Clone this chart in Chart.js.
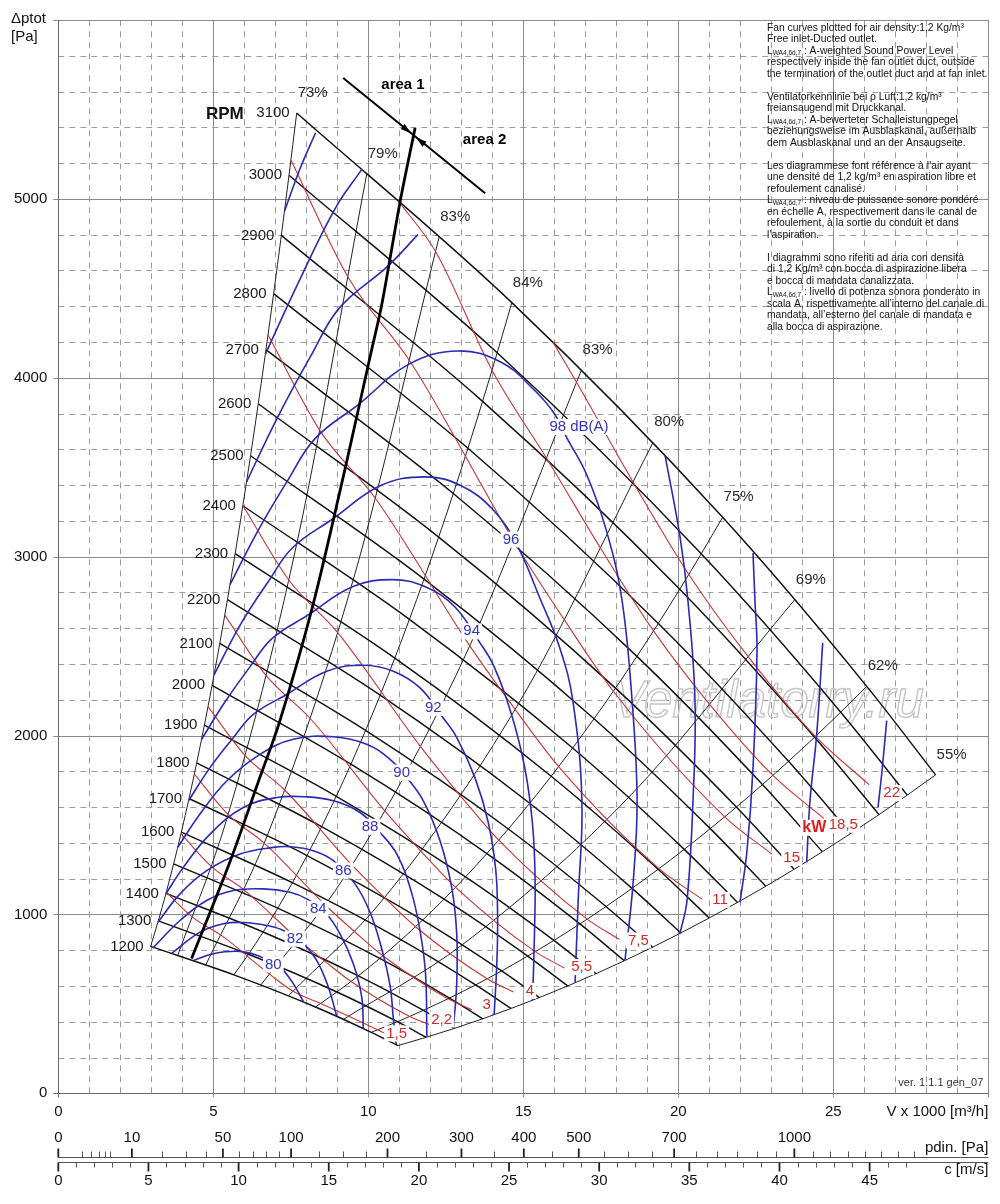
<!DOCTYPE html>
<html><head><meta charset="utf-8">
<script src="https://cdn.jsdelivr.net/npm/chart.js@4.4.1/dist/chart.umd.min.js"></script>
<style>html,body{margin:0;padding:0;background:#fff}#wrap{width:1000px;height:1204px}</style>
</head><body><div id="wrap"><canvas id="c" width="1000" height="1204"></canvas></div>
<script>
const FONT = "'Liberation Sans', Arial, Helvetica, sans-serif";

// ================= DATA (V in 1000 m³/h, p in Pa) =================
const rpmLabels = [1200,1300,1400,1500,1600,1700,1800,1900,2000,2100,2200,2300,2400,2500,2600,2700,2800,2900,3000,3100];

// efficiency lines read at every RPM line
const eff73V = [2.977,3.225,3.473,3.721,3.969,4.217,4.465,4.713,4.961,5.209,5.457,5.705,5.953,6.202,6.450,6.698,6.946,7.194,7.442,7.690];
const eff73P = [821.1,963.7,1117.6,1283.0,1459.8,1648.0,1847.6,2058.6,2280.9,2514.8,2759.9,3016.6,3284.6,3564.0,3854.8,4157.0,4470.7,4795.7,5132.1,5480];
const eff84V = [5.663,6.135,6.607,7.079,7.551,8.023,8.495,8.967,9.439,9.911,10.383,10.855,11.326,11.798,12.270,12.742,13.214,13.686,14.158,14.630];
const eff84P = [662.3,777.3,901.5,1034.9,1177.4,1329.2,1490.2,1660.4,1839.7,2028.3,2226.1,2433.1,2649.3,2874.6,3109.2,3352.9,3605.9,3868.1,4139.4,4420];
const eff75V = [8.296,8.987,9.678,10.369,11.061,11.752,12.443,13.135,13.826,14.517,15.208,15.900,16.591,17.282,17.974,18.665,19.356,20.047,20.739,21.430];
const eff75P = [482.5,566.3,656.7,753.9,857.8,968.4,1085.6,1209.6,1340.3,1477.7,1621.7,1772.5,1930.0,2094.2,2265.0,2442.6,2626.9,2817.9,3015.6,3220];
const eff62V = [10.096,10.937,11.778,12.619,13.461,14.302,15.143,15.985,16.826,17.667,18.508,19.350,20.191,21.032,21.874,22.715,23.556,24.397,25.239,26.080];
const eff62P = [340.9,400.1,464.0,532.6,606.0,684.2,767.0,854.6,946.9,1044.0,1145.8,1252.3,1363.6,1479.6,1600.3,1725.8,1856.0,1990.9,2130.6,2275];
const eff55V = [10.955,11.868,12.781,13.694,14.606,15.519,16.432,17.345,18.258,19.171,20.084,20.997,21.910,22.823,23.735,24.648,25.561,26.474,27.387,28.300];
const eff55P = [266.7,313.0,363.0,416.8,474.2,535.3,600.1,668.7,740.9,816.8,896.5,979.8,1066.9,1157.6,1252.1,1350.3,1452.2,1557.7,1667.0,1780];
// efficiency lines read at 1200, 1700, 2400 and 3100 rpm
const eff79V = [3.852,5.456,7.703,9.95];   const eff79P = [770.2,1545.8,3080.8,5140];
const eff83aV = [4.757,6.740,9.515,12.29]; const eff83aP = [717.7,1440.5,2871.0,4790];
const eff83bV = [6.534,9.257,13.068,16.88];const eff83bP = [606.1,1216.5,2424.5,4045];
const eff80V = [7.428,10.524,14.857,19.19];const eff80P = [545.4,1094.7,2181.7,3640];
const eff69V = [9.198,13.030,18.395,23.76];const eff69P = [413.6,830.0,1654.3,2760];
const effLabels = ['73%','79%','83%','84%','83%','80%','75%','69%','62%','55%'];

// motor power lines (red)
const kwLabels = ['1,5','2,2','3','4','5,5','7,5','11','15','18,5','22'];
const kw1_5V = [3.483,4.349,5.271,6.835,7.587,8.465,10.302,10.74];
const kw1_5P = [1124.0,981.8,881.2,663.1,569.0,502.4,355.0,316.4];
const kw2_2V = [3.957,4.941,5.989,7.766,8.621,9.443,11.338,11.973];
const kw2_2P = [1451.2,1267.5,1137.6,856.1,734.6,625.2,429.9,384.1];
const kw3V = [4.388,5.479,6.641,8.611,9.559,10.471,12.572,13.339];
const kw3P = [1784.2,1558.4,1398.6,1052.6,903.2,768.7,528.6,467.2];
const kw4V = [4.829,6.030,7.309,9.477,10.521,11.524,13.836,14.681];
const kw4P = [2161.2,1887.7,1694.2,1275.0,1094.1,931.2,640.3,566.0];
const kw5_5V = [5.371,6.706,8.128,10.539,11.700,12.816,15.387,16.326];
const kw5_5P = [2672.9,2334.7,2095.2,1576.9,1353.1,1151.6,791.9,700.0];
const kw7_5V = [5.954,7.435,9.012,11.685,12.972,14.209,17.060,18.101];
const kw7_5P = [3285.5,2869.7,2575.4,1938.2,1663.2,1415.5,973.4,860.4];
const kw11V = [6.764,8.446,10.237,13.274,14.736,16.141,19.380,20.759];
const kw11P = [4239.9,3703.3,3323.6,2501.3,2146.4,1826.7,1256.2,1086.0];
const kw15V = [7.503,9.368,11.356,14.724,16.346,17.905,21.497,23.027];
const kw15P = [5216.9,4556.7,4089.5,3077.7,2641.0,2247.7,1545.7,1336.3];
const kw18_5V = [10.97,12.178,13.991,15.789,17.528,19.200,21.049,23.052,24.694];
const kw18_5P = [4988,4702.7,4042.3,3539.2,3037.0,2584.8,2166.1,1777.5,1536.7];
const kw22V = [15.96,16.727,18.569,20.339,22.299,24.421,26.159];
const kw22P = [4198,3971.8,3408.2,2900.6,2431.0,1994.7,1724.5];
const kwLabelV = [10.916,12.368,13.819,15.216,16.884,18.71,21.345,23.658,25.323,26.884];
const kwLabelP = [334.4,412.5,492.2,571.9,705.7,854.5,1081.4,1315.5,1501.1,1677.8];

// sound power curves (blue)
const db80V = [4.36,5.0,5.861,6.506,6.894,7.206,7.581,7.91];
const db80P = [743,780.4,793.2,765.3,731.9,696.8,613.1,511.7];
const db82V = [3.66,4.571,5.323,5.97,6.723,7.258,7.903,8.335,8.71,8.98];
const db82P = [782,900.8,947.6,955,938.1,910.2,836.1,743.0,594.2,431];
const db84V = [3.05,3.926,4.787,5.645,6.613,7.474,8.013,8.603,9.087,9.516,9.787,9.839];
const db84P = [812,966,1077.5,1133.2,1142.7,1123.7,1086.9,1012.2,891.8,724.6,538.4,362];
const db86V = [3.216,3.926,4.787,5.861,6.935,7.474,8.226,8.871,9.571,10.055,10.432,10.7,10.813,10.9];
const db86P = [956.5,1114.8,1244.7,1337.8,1374.6,1378.5,1356.2,1300.4,1170.6,1012.2,808.2,603.6,408.6,275];
const db88V = [3.47,4.032,4.894,5.968,7.045,8.013,8.871,9.732,10.377,10.916,11.377,11.668,11.845,11.89];
const db88P = [1114.8,1263.1,1449.2,1597.5,1653.2,1657.2,1634.9,1569.6,1458.2,1337.8,1133,910,670.6,316];
const db90V = [3.852,4.571,5.432,6.506,7.581,8.871,9.948,10.70,11.239,11.774,12.313,12.69,12.852,12.852,12.742];
const db90P = [1375,1561,1746,1895,1979,1993,1951,1867,1764.7,1634.9,1411.9,1151.6,891.8,613.1,360];
const db92V = [4.2,4.894,5.645,6.29,7.368,8.658,9.839,10.806,11.668,12.368,12.85,13.44,13.87,14.11,14.17,14.15,14.06];
const db92P = [1634.9,1820.5,1987.7,2118.1,2229.6,2359.5,2393,2359.5,2266.4,2108.7,1990,1764.7,1514,1250,1000,743,440];
const db94V = [4.621,5.364,6.187,6.894,8.075,9.489,10.784,11.843,12.788,13.555,14.05,14.62,15.05,15.3,15.38,15.36,15.3];
const db94P = [1978.8,2184.6,2385.2,2541.7,2675.5,2831.4,2871.6,2831.4,2719.7,2530.4,2388,2117,1817,1500,1200,892,520];
const db96V = [5.03,5.879,6.781,7.556,8.85,10.4,11.819,12.98,14.016,14.79,15.54,16.18,16.6,16.89,16.77,16.67];
const db96P = [2341,2621.5,2862.2,3050,3210.6,3397.7,3445.9,3397.7,3263.6,3067,2766,2488,2192,1635,1078,618];
const db98V = [5.539,6.443,7.432,8.281,9.7,11.3,12.9,14.3,15.36,16.0,16.4,17.045,17.69,18.18,18.51,18.67,18.54,18.28];
const db98P = [2843,3146,3435,3660,3853,4075,4150,4085,3930,3800,3665,3458,3140,2761,2192,1635,1172,743];
const db100V = [6.074,7.062,8.145,9.076,10.631,11.6];
const db100P = [3418.5,3775,4122,4392,4624,4800];
const db100bV = [19.571,20.055,20.313,20.539,20.474,20.281,20.055];
const db100bP = [3567,3112,2750,2192,1635,1078,893.5];
const db102V = [6.68,7.74,8.93,9.79];
const db102P = [4132,4530,4946,5165];
const db102bV = [22.41,22.474,22.539,22.41,22.216,21.99];
const db102bP = [3020,2750,2471,1819,1357,1067];
const db104V = [7.3,7.8,8.3];
const db104P = [4933,5170,5370];
const db104bV = [24.658,24.465,24.248,24.142];
const db104bP = [2517,2008,1635,1290];
const db106bV = [26.723,26.561,26.442];
const db106bP = [2083,1785,1597.5];
const dbLabels = ['80','82','84','86','88','90','92','94','96','98 dB(A)'];
const dbLabelV = [6.935,7.635,8.387,9.194,10.055,11.077,12.097,13.335,14.603,16.797];
const dbLabelP = [720.7,864,1031.2,1244.7,1490,1792.6,2155,2582.5,3095.3,3725.3];

// area 1 / area 2 border and marker
const areaV = [4.30,5.55,6.45,7.15,8.22,9.25,10.09,10.43,11.02,11.51];
const areaP = [754,1300,1740,2083,2733,3491,4143,4405,4979,5397];
const crossV = [9.19,13.77];
const crossP = [5676,5031];
const crossMarkV = [11.462];
const crossMarkP = [5355];
const areaTexts = ['area 1','area 2'];
const areaTextV = [11.12,13.75];
const areaTextP = [5636,5328];

// auxiliary scales: outlet velocity c [m/s] and dynamic pressure pdin [Pa]
const velocityPerFlow = 1.7194;   // c [m/s] for 1000 m³/h
const halfDensity = 0.6;          // pdin = 0.6 · c²
const cMajor = [0,5,10,15,20,25,30,35,40,45];
const cMinor = [1,2,3,4,6,7,8,9,11,12,13,14,16,17,18,19,21,22,23,24,26,27,28,29,31,32,33,34,36,37,38,39,41,42,43,44,46,47];
const pdinMajor = [0,10,50,100,200,300,400,500,700,1000];
const pdinMinor = [1,2,3,4,5,20,30,40,60,70,80,90,125,150,175,250,350,450,550,600,650,750,800,850,900,950,1050,1100,1150,1200,1250,1300,1350];

const noteLines = [
  [['Fan curves plotted for air density:1,2 Kg/m³']],
  [['Free inlet-Ducted outlet.']],
  [['L'],['WA4,6d,7','s'],[' : A-weighted Sound Power Level']],
  [['respectively inside the fan outlet duct, outside']],
  [['the termination of the outlet duct and at fan inlet.']],
  null,
  [['Ventilatorkennlinie bei ρ Luft:1,2 kg/m³']],
  [['freiansaugend mit Druckkanal.']],
  [['L'],['WA4,6d,7','s'],[' : A-bewerteter Schalleistungpegel']],
  [['beziehungsweise im Ausblaskanal, außerhalb']],
  [['dem Ausblaskanal und an der Ansaugseite.']],
  null,
  [['Les diagrammese font référence à l\u2019air ayant']],
  [['une densité de 1,2 kg/m³ en aspiration libre et']],
  [['refoulement canalisé.']],
  [['L'],['WA4,6d,7','s'],[' : niveau de puissance sonore pondéré']],
  [['en échelle A, respectivement dans le canal de']],
  [['refoulement, à la sortie du conduit et dans']],
  [['l\u2019aspiration.']],
  null,
  [['I diagrammi sono riferiti ad aria con densità']],
  [['di 1,2 Kg/m³ con bocca di aspirazione libera']],
  [['e bocca di mandata canalizzata.']],
  [['L'],['WA4,6d,7','s'],[' : livello di potenza sonora ponderato in']],
  [['scala A, rispettivamente all\u2019interno del canale di']],
  [['mandata, all\u2019esterno del canale di mandata e']],
  [['alla bocca di aspirazione.']]
];

// ================= BUILD DATASETS =================
const pts = (V, P) => V.map((v, i) => ({x: v, y: P[i]}));
const meshCols = [[eff73V,eff73P],[eff84V,eff84P],[eff75V,eff75P],[eff62V,eff62P],[eff55V,eff55P]];
const datasets = [];

rpmLabels.forEach((n, i) => {
  datasets.push({ data: meshCols.map(c => ({x: c[0][i], y: c[1][i]})), showLine: true,
    borderColor: '#111', borderWidth: 1.45, cubicInterpolationMode: 'monotone', order: 6 });
});
const effLines = [[eff73V,eff73P],[eff79V,eff79P],[eff83aV,eff83aP],[eff84V,eff84P],[eff83bV,eff83bP],
                  [eff80V,eff80P],[eff75V,eff75P],[eff69V,eff69P],[eff62V,eff62P],[eff55V,eff55P]];
effLines.forEach(e => datasets.push({ data: pts(e[0], e[1]), showLine: true, borderColor: '#222',
  borderWidth: 1, cubicInterpolationMode: 'monotone', order: 7 }));

const kwLines = [[kw1_5V,kw1_5P],[kw2_2V,kw2_2P],[kw3V,kw3P],[kw4V,kw4P],[kw5_5V,kw5_5P],
                 [kw7_5V,kw7_5P],[kw11V,kw11P],[kw15V,kw15P],[kw18_5V,kw18_5P],[kw22V,kw22P]];
kwLines.forEach(k => datasets.push({ data: pts(k[0], k[1]), showLine: true, borderColor: '#c93434',
  borderWidth: 1.1, cubicInterpolationMode: 'monotone', order: 5 }));

const dbLines = [[db80V,db80P],[db82V,db82P],[db84V,db84P],[db86V,db86P],[db88V,db88P],[db90V,db90P],
  [db92V,db92P],[db94V,db94P],[db96V,db96P],[db98V,db98P],[db100V,db100P],[db100bV,db100bP],
  [db102V,db102P],[db102bV,db102bP],[db104V,db104P],[db104bV,db104bP],[db106bV,db106bP]];
dbLines.forEach(d => datasets.push({ data: pts(d[0], d[1]), showLine: true, borderColor: '#2a2ab4',
  borderWidth: 1.6, tension: 0.4, order: 3 }));

datasets.push({ data: pts(areaV, areaP), showLine: true, borderColor: '#000', borderWidth: 2.8, tension: 0.3, order: 1 });
datasets.push({ data: pts(crossV, crossP), showLine: true, borderColor: '#000', borderWidth: 2, order: 1 });

// ================= DRAWING HELPERS =================
function label(ctx, s, X, Y, font, color, align, bg) {
  ctx.font = font; ctx.textAlign = align || 'center'; ctx.textBaseline = 'middle';
  if (bg) {
    const w = ctx.measureText(s).width;
    const x0 = align === 'left' ? X : align === 'right' ? X - w : X - w / 2;
    ctx.fillStyle = '#fff'; ctx.fillRect(x0 - 2, Y - 8, w + 4, 16);
  }
  ctx.fillStyle = color; ctx.fillText(s, X, Y);
}

const backPlugin = {
  id: 'back',
  beforeDatasetsDraw(chart) {
    const {ctx, chartArea: a, scales: {x, y}} = chart;
    ctx.save();
    ctx.lineWidth = 1;
    ctx.strokeStyle = '#9c9c9c';
    ctx.setLineDash([6, 5]);
    ctx.beginPath();
    for (let v = 1; v < 30; v++) {
      if (v % 5 === 0) continue;
      const X = Math.round(x.getPixelForValue(v)) + 0.5;
      ctx.moveTo(X, a.bottom); ctx.lineTo(X, a.top);
    }
    for (let p = 200; p < 6000; p += 200) {
      if (p % 1000 === 0) continue;
      const Y = Math.round(y.getPixelForValue(p)) + 0.5;
      ctx.moveTo(a.left, Y); ctx.lineTo(a.right, Y);
    }
    ctx.stroke();
    ctx.setLineDash([]);
    ctx.strokeStyle = '#8a8a8a';
    ctx.beginPath();
    for (let v = 0; v <= 30; v += 5) {
      const X = Math.round(x.getPixelForValue(v)) + 0.5;
      ctx.moveTo(X, a.bottom + 4); ctx.lineTo(X, a.top);
    }
    for (let p = 0; p <= 6000; p += 1000) {
      const Y = Math.round(y.getPixelForValue(p)) + 0.5;
      ctx.moveTo(a.left - 5, Y); ctx.lineTo(a.right, Y);
    }
    ctx.stroke();
    ctx.strokeStyle = '#6a6a6a';
    ctx.beginPath();
    const B = Math.round(a.bottom) + 0.5, L = Math.round(a.left) + 0.5;
    ctx.moveTo(a.left - 5, B); ctx.lineTo(a.right, B);
    ctx.moveTo(L, a.top); ctx.lineTo(L, a.bottom + 4);
    ctx.stroke();
    // watermark
    ctx.font = 'italic 51px ' + FONT;
    ctx.textAlign = 'left'; ctx.textBaseline = 'alphabetic';
    ctx.strokeStyle = '#c6c6c6'; ctx.lineWidth = 1.4;
    ctx.strokeText('Ventilatorry.ru', 612, 717);
    ctx.restore();
  },
  afterDatasetsDraw(chart) {
    const {ctx, chartArea: a, scales: {x, y}} = chart;
    const P = (v, p) => [x.getPixelForValue(v), y.getPixelForValue(p)];
    ctx.save();
    // RPM labels
    rpmLabels.forEach((n, i) => {
      const [X, Y] = P(eff73V[i], eff73P[i]);
      label(ctx, String(n), X - 7, Y, '15px ' + FONT, '#1a1a1a', 'right');
    });
    const [tx, ty] = P(eff73V[19], eff73P[19]);
    label(ctx, 'RPM', tx - 53, ty + 1, 'bold 17px ' + FONT, '#111', 'right');
    // efficiency labels at the 3100 rpm end of each line
    effLines.forEach((e, i) => {
      const k = e[0].length - 1;
      const [X, Y] = P(e[0][k], e[1][k]);
      label(ctx, effLabels[i], X + 16, Y - 20, '15px ' + FONT, '#2a2a2a', 'center');
    });
    // dB labels
    dbLabels.forEach((s, i) => {
      const [X, Y] = P(dbLabelV[i], dbLabelP[i]);
      label(ctx, s, X, Y, '15px ' + FONT, '#3434c0', 'center', true);
    });
    // kW labels
    kwLabels.forEach((s, i) => {
      const [X, Y] = P(kwLabelV[i], kwLabelP[i]);
      label(ctx, s, X, Y, '15px ' + FONT, '#d02a2a', 'center', true);
      if (s === '18,5') label(ctx, 'kW', X - 29, Y + 3, 'bold 16px ' + FONT, '#e01c1c', 'center', true);
    });
    // area labels
    areaTexts.forEach((s, i) => {
      const [X, Y] = P(areaTextV[i], areaTextP[i]);
      label(ctx, s, X, Y, 'bold 15px ' + FONT, '#000', 'center');
    });
    // arrow heads at the area border
    const [ax, ay] = P(crossV[0], crossP[0]);
    const [bx, by] = P(crossV[1], crossP[1]);
    const [cx, cy] = P(crossMarkV[0], crossMarkP[0]);
    const len = Math.hypot(bx - ax, by - ay), ux = (bx - ax) / len, uy = (by - ay) / len;
    const nx = -uy, ny = ux;
    ctx.fillStyle = '#000';
    [-1, 1].forEach(s => {
      const tipX = cx + s * 3 * ux, tipY = cy + s * 3 * uy;
      const baseX = tipX + s * 11 * ux, baseY = tipY + s * 11 * uy;
      ctx.beginPath();
      ctx.moveTo(tipX, tipY);
      ctx.lineTo(baseX + nx * 3.2, baseY + ny * 3.2);
      ctx.lineTo(baseX - nx * 3.2, baseY - ny * 3.2);
      ctx.closePath(); ctx.fill();
    });
    ctx.restore();
  },
  afterDraw(chart) {
    const {ctx, chartArea: a, scales: {x}} = chart;
    ctx.save();
    // axis titles
    label(ctx, 'Δptot', 11, 19, '15px ' + FONT, '#111', 'left');
    label(ctx, '[Pa]', 11, 37, '15px ' + FONT, '#111', 'left');
    label(ctx, 'V x 1000 [m³/h]', a.right, a.bottom + 18.5, '15px ' + FONT, '#111', 'right');
    label(ctx, 'ver. 1.1.1 gen_07', a.right - 5, a.bottom - 10, '11px ' + FONT, '#333', 'right');
    // pdin and c axes
    const yP = Math.round(a.bottom + 64) + 0.5, yC = yP + 5;
    ctx.strokeStyle = '#555'; ctx.lineWidth = 1;
    ctx.beginPath(); ctx.moveTo(a.left, yP); ctx.lineTo(a.right, yP);
    ctx.moveTo(a.left, yC); ctx.lineTo(a.right, yC); ctx.stroke();
    const xPd = p => x.getPixelForValue(Math.sqrt(p / halfDensity) / velocityPerFlow);
    const xC = c => x.getPixelForValue(c / velocityPerFlow);
    ctx.beginPath();
    pdinMinor.forEach(p => { const X = Math.round(xPd(p)) + 0.5; ctx.moveTo(X, yP); ctx.lineTo(X, yP - 6); });
    cMinor.forEach(c => { const X = Math.round(xC(c)) + 0.5; ctx.moveTo(X, yC); ctx.lineTo(X, yC + 5); });
    ctx.stroke();
    ctx.lineWidth = 1.8; ctx.strokeStyle = '#222';
    ctx.beginPath();
    pdinMajor.forEach(p => { const X = xPd(p); ctx.moveTo(X, yP); ctx.lineTo(X, yP - 9); });
    cMajor.forEach(c => { const X = xC(c); ctx.moveTo(X, yC); ctx.lineTo(X, yC + 9); });
    ctx.stroke();
    pdinMajor.forEach(p => label(ctx, String(p), xPd(p), yP - 20, '15px ' + FONT, '#111', 'center'));
    cMajor.forEach(c => label(ctx, String(c), xC(c), yC + 18, '15px ' + FONT, '#111', 'center'));
    label(ctx, 'pdin. [Pa]', a.right, yP - 10, '15px ' + FONT, '#111', 'right');
    label(ctx, 'c [m/s]', a.right, yC + 7, '15px ' + FONT, '#111', 'right');
    // multilingual note
    let yy = 28;
    noteLines.forEach(line => {
      if (line) {
        let xx = 767;
        line.forEach(seg => {
          const sub = seg[1] === 's';
          ctx.font = (sub ? '6.5px ' : '10.3px ') + FONT;
          ctx.fillStyle = '#111'; ctx.textAlign = 'left'; ctx.textBaseline = 'middle';
          ctx.fillText(seg[0], xx, sub ? yy + 2.5 : yy);
          xx += ctx.measureText(seg[0]).width;
        });
      }
      yy += 11.5;
    });
    ctx.restore();
  }
};

new Chart(document.getElementById('c'), {
  type: 'scatter',
  data: { datasets },
  options: {
    responsive: false, animation: false, devicePixelRatio: 1,
    layout: { padding: { left: 0, right: 11.7, top: 17, bottom: 80.7 } },
    plugins: { legend: { display: false }, tooltip: { enabled: false } },
    elements: { point: { radius: 0, hoverRadius: 0 } },
    scales: {
      x: { type: 'linear', min: 0, max: 30,
        grid: { display: false, drawTicks: false }, border: { display: false },
        ticks: { stepSize: 5, padding: 10, autoSkip: false, maxRotation: 0, color: '#111',
                 font: { size: 15, family: FONT }, callback: v => (v < 30 ? String(v) : null) },
        afterFit: s => { s.height = 30; } },
      y: { type: 'linear', min: 0, max: 6000,
        grid: { display: false, drawTicks: false }, border: { display: false },
        ticks: { stepSize: 1000, padding: 11, color: '#111', font: { size: 15, family: FONT },
                 callback: v => (v < 6000 ? String(v) : null) },
        afterFit: s => { s.width = 58.3; } }
    }
  },
  plugins: [backPlugin]
});
</script></body></html>
